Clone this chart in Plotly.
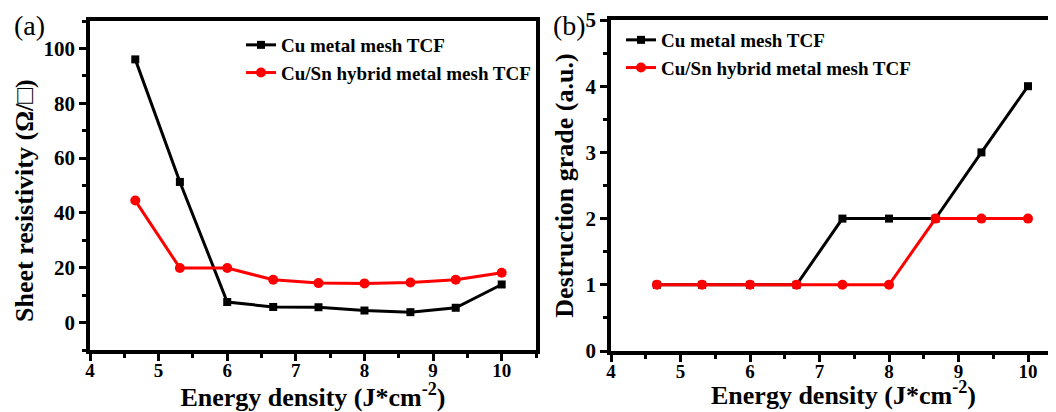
import plotly.graph_objects as go

# ---- data ----
energy = [4.66, 5.31, 6.0, 6.67, 7.33, 8.0, 8.67, 9.33, 10.0]
cu_resist = [96.0, 51.3, 7.5, 5.7, 5.6, 4.4, 3.8, 5.4, 13.9]
cusn_resist = [44.5, 19.9, 19.9, 15.6, 14.4, 14.3, 14.6, 15.6, 18.2]
cu_grade = [1, 1, 1, 1, 2, 2, 2, 3, 4]
cusn_grade = [1, 1, 1, 1, 1, 1, 2, 2, 2]
name_cu = "Cu metal mesh TCF"
name_cusn = "Cu/Sn hybrid metal mesh TCF"
energy_ticks = [4, 5, 6, 7, 8, 9, 10]
resist_ticks = [0, 20, 40, 60, 80, 100]
grade_ticks = [0, 1, 2, 3, 4, 5]

# page is 1056x412; the html body has an 8px margin, so the figure is 8px smaller
PAGE_W, PAGE_H, OFF = 1056, 412, 8
W, H = PAGE_W - OFF, PAGE_H - OFF
FONT = "Liberation Serif"

def px_x(v):
    return (v - OFF) / W

def px_y(v):
    return (PAGE_H - v) / H

def bold(vals):
    return [f"<b>{v}</b>" for v in vals]

fig = go.Figure()

black = "#000000"
red = "#ff0000"

def add(xs, ys, name, color, symbol, size, xa, ya, leg):
    fig.add_trace(go.Scatter(x=xs, y=ys, name=name, mode="lines+markers",
                             line=dict(color=color, width=3),
                             marker=dict(symbol=symbol, size=size, color=color),
                             xaxis=xa, yaxis=ya, legend=leg))

add(energy, cu_resist, name_cu, black, "square", 8, "x", "y", "legend")
add(energy, cusn_resist, name_cusn, red, "circle", 10, "x", "y", "legend")
add(energy, cu_grade, name_cu, black, "square", 8, "x2", "y2", "legend2")
add(energy, cusn_grade, name_cusn, red, "circle", 10, "x2", "y2", "legend2")

xtickfont = dict(family=FONT, size=19, color="black", weight="bold")
ytickfont = dict(family=FONT, size=21, color="black", weight="bold")
titlefont = dict(family=FONT, size=26, color="black", weight="bold")
legfont = dict(family=FONT, size=19, color="black", weight="bold")

common_axis = dict(showline=True, linecolor="black", linewidth=3.5, ticks="outside",
                   ticklen=7, tickwidth=2.5, tickcolor="black", showgrid=False,
                   zeroline=False, automargin=False, tickmode="array")
minor_t = dict(ticks="outside", ticklen=4, tickwidth=2.5, tickcolor="black")

xtitle = "Energy density (J*cm<sup>-2</sup>)"
ytitle_a = "Sheet resistivity (Ω/□)"
ytitle_b = "Destruction grade (a.u.)"

fig.update_layout(
    width=W, height=H,
    margin=dict(l=0, r=0, t=0, b=0),
    paper_bgcolor="white", plot_bgcolor="white",
    showlegend=True,
    xaxis=dict(**common_axis, tickfont=xtickfont, domain=[px_x(90), px_x(536)], range=[4, 10.5],
               tickvals=energy_ticks, ticktext=bold(energy_ticks), ticklabelstandoff=-7,
               mirror=True, anchor="y",
               minor=dict(dtick=0.5, tick0=0, **minor_t),
               title=dict(text=xtitle, font=titlefont, standoff=10)),
    yaxis=dict(**common_axis, tickfont=ytickfont, domain=[px_y(350), px_y(21)], range=[-10, 110],
               tickvals=resist_ticks, ticktext=bold(resist_ticks),
               mirror=True, anchor="x",
               minor=dict(dtick=10, tick0=0, **minor_t)),
    xaxis2=dict(**common_axis, tickfont=xtickfont, domain=[px_x(611), 1.0], range=[4, 4 + 445 / 69.5],
                tickvals=energy_ticks, ticktext=bold(energy_ticks), ticklabelstandoff=-7,
                mirror=True, anchor="y2",
                minor=dict(dtick=0.5, tick0=0, **minor_t)),
    yaxis2=dict(**common_axis, tickfont=ytickfont, domain=[px_y(351), px_y(20)], range=[0, 5],
                tickvals=grade_ticks, ticktext=bold(grade_ticks),
                anchor="x2",
                minor=dict(dtick=0.5, tick0=0, **minor_t),
                title=dict(text=ytitle_b, font=titlefont, standoff=5)),
    legend=dict(x=px_x(241), y=px_y(26), xanchor="left", yanchor="top",
                bgcolor="rgba(0,0,0,0)", font=legfont, tracegroupgap=0),
    legend2=dict(x=px_x(621), y=px_y(21), xanchor="left", yanchor="top",
                 bgcolor="rgba(0,0,0,0)", font=legfont, tracegroupgap=0),
    annotations=[
        dict(text="(a)", x=px_x(12), y=px_y(25), xref="paper", yref="paper",
             xanchor="left", yanchor="middle", showarrow=False,
             font=dict(family=FONT, size=28, color="black")),
        dict(text="(b)", x=px_x(551), y=px_y(25), xref="paper", yref="paper",
             xanchor="left", yanchor="middle", showarrow=False,
             font=dict(family=FONT, size=28, color="black")),
        dict(text=ytitle_a, x=px_x(24), y=px_y(201), xref="paper", yref="paper",
             xanchor="center", yanchor="middle", textangle=-90, showarrow=False,
             font=titlefont),
        dict(text=xtitle, x=px_x(843), y=px_y(393), xref="paper", yref="paper",
             xanchor="center", yanchor="middle", showarrow=False,
             font=titlefont),
    ],
)

fig.write_html("out.html")
